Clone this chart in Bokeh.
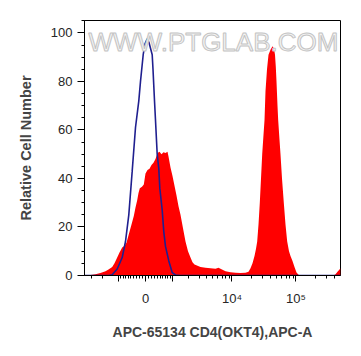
import numpy as np
from bokeh.plotting import figure
from bokeh.models import FixedTicker, Label, Range1d
from bokeh.embed import file_html
from bokeh.resources import INLINE

# ---- data (x in display channel units 0..256 of the biexponential axis) ----
red_x = [0, 6, 11, 16, 21, 24, 27.7, 30, 32.7, 35, 37.7, 40, 42, 44.3, 47, 49.3, 51, 52.7,
         54, 55.3, 57.5, 59.3, 61, 63, 65, 67, 69, 71, 73, 75, 77, 79, 81, 83, 84, 86, 88,
         90, 92, 94, 96, 98.5, 101, 103.5, 106, 108, 110, 113, 116, 121, 126, 131, 134,
         137, 141, 146, 151, 156, 161, 164, 166, 168, 170, 171.5, 172.7, 174, 175.3,
         176.5, 177.7, 179, 180, 181, 182.5, 184, 186, 188, 189.5, 190.5, 191.3, 192,
         193, 193.7, 195, 196, 197.5, 199.3, 201, 202.7, 204.5, 206, 208, 210, 212, 214,
         216, 249, 251, 253, 255, 256]
red_y = [0, 0.2, 0.5, 1, 1.8, 2.5, 3.5, 5, 7.4, 9.5, 11.5, 12.3, 13.5, 17, 21, 24.5, 28, 31,
         34, 36, 36.6, 37.5, 42, 43.5, 44, 45.5, 46.5, 48, 50.5, 51, 50, 50.8, 50.5, 51,
         49, 44.5, 41, 37, 33, 28.5, 25, 19.5, 14, 10, 7.4, 5.5, 4.5, 4, 3.5, 3.2, 3,
         2.8, 3.2, 2.6, 1.8, 1.3, 1.1, 1, 1.1, 1.5, 3, 5, 8, 11, 14, 21, 30, 40, 50, 58,
         64, 76, 85, 91, 93, 94.5, 93.5, 91, 86, 80, 70, 64, 56, 50, 40, 30, 21, 14, 10,
         8, 6, 3.5, 1.2, 0.3, 0, 0, 0.5, 1.5, 2.5, 3]

blue_x = [0, 24, 27.7, 32.7, 37.7, 41, 44.3, 47.7, 51, 54.3, 56, 58.7, 60.5, 62.7, 64.5,
          67.7, 68.5, 70, 71, 72.7, 74.3, 75.3, 77.7, 79.3, 81, 84.3, 87.7, 91, 96, 256]
blue_y = [0, 0, 0.3, 2.7, 7.4, 14, 25, 43, 61, 72, 80, 91, 95.5, 97.5, 96, 91, 85, 72,
          64, 50, 44, 36, 27, 18, 12, 6, 1.2, 0.2, 0, 0]

y_ticks = [0, 20, 40, 60, 80, 100]
x_major_values = [-1000, 0, 1000, 1e4, 1e5]
x_major_labels = ["", "0", "", "10\u2074", "10\u2075"]
x_minor_values = ([-4000, -3000, -2000] + [v for v in range(-900, 1000, 100) if v != 0]
                  + [m * 1e3 for m in range(2, 10)] + [m * 1e4 for m in range(2, 10)]
                  + [2e5, 3e5, 4e5])

# biexponential-like display transform (value -> channel)
C0, K, W = 61.0, 27.8, 893.0
def xt(v):
    return float(C0 + K * np.arcsinh(v / W))

FONT = "Liberation Sans"

p = figure(output_backend="svg", toolbar_location=None,
           frame_width=256, frame_height=255,
           min_border_left=84, min_border_top=20, min_border_right=13, min_border_bottom=70,
           x_range=Range1d(0, 256), y_range=Range1d(0, 105.1))
p.grid.visible = False
p.outline_line_color = "black"
p.outline_line_width = 1
p.background_fill_color = "white"
p.border_fill_color = "white"

# watermark
p.add_layout(Label(x=4, y=96.3, text="WWW.PTGLAB.COM", text_font=FONT,
                   text_font_size="26px", text_color="#f4f4f4", text_align="left",
                   text_baseline="middle", text_outline_color="#c4c4c4"))

p.varea(x=red_x, y1=0, y2=red_y, fill_color="#ff0000")
p.line(blue_x, blue_y, line_color="#1f1f8f", line_width=1.6)

# y axis
ya = p.yaxis[0]
ya.ticker = FixedTicker(ticks=y_ticks, minor_ticks=list(range(0, 106, 5)))
ya.axis_label = "Relative Cell Number"
ya.axis_label_text_font = FONT
ya.axis_label_text_font_style = "bold"
ya.axis_label_text_font_size = "14.5px"
ya.axis_label_standoff = 14
ya.major_label_text_font = FONT
ya.major_label_text_font_size = "13px"
ya.major_label_text_color = "#262626"
ya.major_tick_out = 7
ya.major_tick_in = 0
ya.minor_tick_out = 3
ya.minor_tick_in = 0
ya.axis_line_color = "black"

# x axis
xa = p.xaxis[0]
maj = [xt(v) for v in x_major_values]
xa.ticker = FixedTicker(ticks=maj, minor_ticks=[xt(v) for v in x_minor_values])
xa.major_label_overrides = {t: lab for t, lab in zip(maj, x_major_labels)}
xa.axis_label = "APC-65134 CD4(OKT4),APC-A"
xa.axis_label_text_font = FONT
xa.axis_label_text_font_style = "bold"
xa.axis_label_text_font_size = "14px"
xa.axis_label_standoff = 15
xa.major_label_text_font = FONT
xa.major_label_text_font_size = "13px"
xa.major_label_text_color = "#262626"
xa.major_label_standoff = 9
xa.major_tick_out = 6
xa.major_tick_in = 0
xa.minor_tick_out = 3
xa.minor_tick_in = 0
xa.axis_line_color = "black"

open("out.html", "w").write(file_html(p, INLINE))
